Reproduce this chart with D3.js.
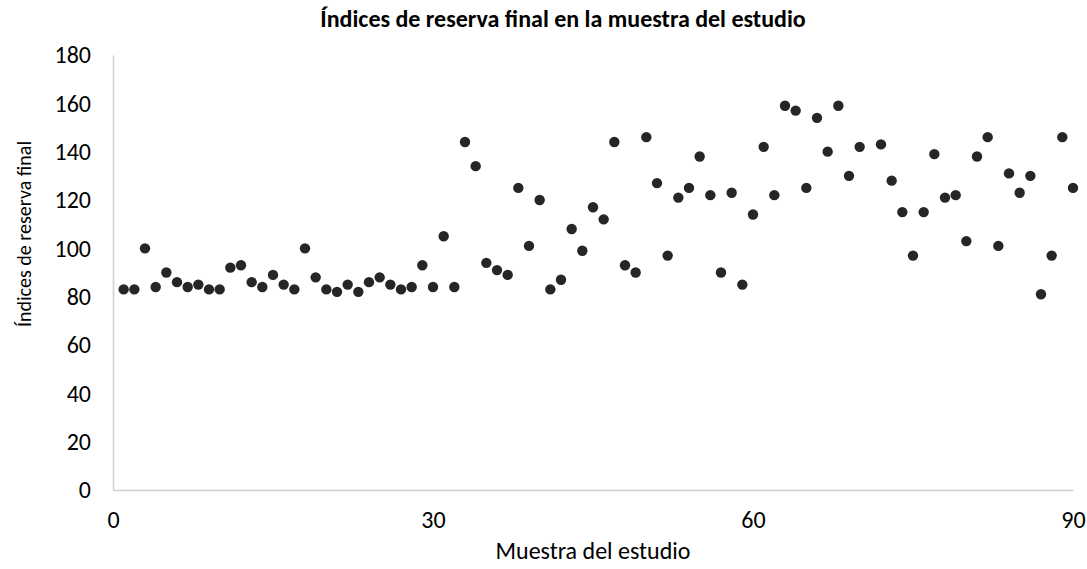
<!DOCTYPE html>
<html>
<head>
<meta charset="utf-8">
<script src="https://cdn.jsdelivr.net/npm/d3@7"></script>
<style>
  body { margin: 0; background: #fff; }
  svg { font-family: Carlito, "Open Sans", sans-serif; }
</style>
</head>
<body>
<svg id="chart"></svg>
<script>
// Datos (muestra 71 no aparece en la figura)
const reservaFinal = [
  83, 83, 100, 84, 90, 86, 84, 85, 83, 83,
  92, 93, 86, 84, 89, 85, 83, 100, 88, 83,
  82, 85, 82, 86, 88, 85, 83, 84, 93, 84,
  105, 84, 144, 134, 94, 91, 89, 125, 101, 120,
  83, 87, 108, 99, 117, 112, 144, 93, 90, 146,
  127, 97, 121, 125, 138, 122, 90, 123, 85, 114,
  142, 122, 159, 157, 125, 154, 140, 159, 130, 142,
  null, 143, 128, 115, 97, 115, 139, 121, 122, 103,
  138, 146, 101, 131, 123, 130, 81, 97, 146, 125
];
const xTicks = [0, 30, 60, 90];
const yTicks = [0, 20, 40, 60, 80, 100, 120, 140, 160, 180];

const data = reservaFinal
  .map((v, i) => ({ muestra: i + 1, valor: v }))
  .filter((d) => d.valor !== null);

const W = 1087, H = 569;
const margin = { top: 55, right: 14, bottom: 79, left: 113 },
  width = W - margin.left - margin.right,
  height = H - margin.top - margin.bottom;

const root = d3.select("#chart").attr("width", W).attr("height", H);
const svg = root.append("g")
  .attr("transform", `translate(${margin.left},${margin.top})`);

const x = d3.scaleLinear().domain([0, 90]).range([0, width]);
const y = d3.scaleLinear().domain([0, 180]).range([height, 0]);

// Ejes
const xAxis = svg.append("g")
  .attr("transform", `translate(0,${height})`)
  .call(d3.axisBottom(x).tickValues(xTicks).tickSize(0).tickPadding(21));
const yAxis = svg.append("g")
  .call(d3.axisLeft(y).tickValues(yTicks).tickSize(0).tickPadding(22));

[xAxis, yAxis].forEach((a) => {
  a.select(".domain").attr("stroke", "#d0d0d0").attr("stroke-width", 1.5);
  a.selectAll("text")
    .attr("fill", "#000")
    .attr("font-size", "24px")
    .attr("font-family", "Carlito, 'Open Sans', sans-serif");
});

// Puntos
svg.selectAll("circle")
  .data(data)
  .enter()
  .append("circle")
  .attr("cx", (d) => x(d.muestra))
  .attr("cy", (d) => y(d.valor))
  .attr("r", 5.2)
  .attr("fill", "#262626");

// Títulos
root.append("text")
  .attr("x", 563)
  .attr("y", 27)
  .attr("text-anchor", "middle")
  .attr("font-size", "24px")
  .attr("font-weight", "bold")
  .text("Índices de reserva final en la muestra del estudio");

root.append("text")
  .attr("x", margin.left + width / 2)
  .attr("y", 559)
  .attr("text-anchor", "middle")
  .attr("font-size", "24px")
  .text("Muestra del estudio");

root.append("text")
  .attr("transform", `translate(31,234) rotate(-90)`)
  .attr("text-anchor", "middle")
  .attr("font-size", "20px")
  .text("Índices de reserva final");
</script>
</body>
</html>
